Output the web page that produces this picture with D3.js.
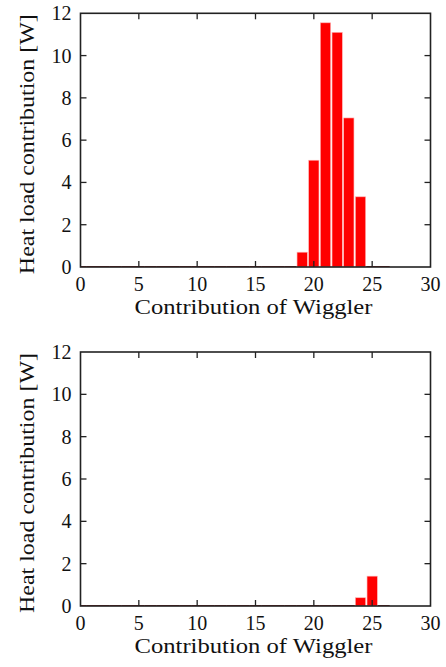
<!DOCTYPE html>
<html>
<head>
<meta charset="utf-8">
<script src="https://cdn.jsdelivr.net/npm/d3@7"></script>
<style>
html,body{margin:0;padding:0;background:#fff;}
svg{display:block;}
</style>
</head>
<body>
<svg id="chart" width="446" height="667"></svg>
<script>
// ---- data ----
const bins = [0,1,2,3,4,5,6,7,8,9,10,11,12,13,14,15,16,17,18,19,20,21,22,23,24,25,26];
const heatTop = [0,0,0,0,0,0,0,0,0,0,0,0,0,0,0,0,0,0,0,0.7,5.05,11.55,11.1,7.05,3.32,0,0];
const heatBottom = [0,0,0,0,0,0,0,0,0,0,0,0,0,0,0,0,0,0,0,0,0,0,0,0,0.39,1.41,0];
const xTicks = [0,5,10,15,20,25,30];
const yTicks = [0,2,4,6,8,10,12];
const xLabel = "Contribution of Wiggler";
const yLabel = "Heat load contribution [W]";

const svg = d3.select("#chart");
const panels = [
  {values: heatTop, top: 13.3, bottom: 267},
  {values: heatBottom, top: 352, bottom: 606}
];
const left = 80.5, right = 430.5;
const FS = "font-family:'Liberation Serif';font-size:20px";

panels.forEach((p, idx) => {
  const x = d3.scaleLinear().domain([0, 30]).range([left, right]);
  const y = d3.scaleLinear().domain([0, 12]).range([p.bottom, p.top]);
  const g = svg.append("g");

  const clipId = "clip" + idx;
  svg.append("clipPath").attr("id", clipId).append("rect")
    .attr("x", left).attr("y", p.top).attr("width", right - left).attr("height", p.bottom - p.top);

  const bw = 0.88;
  const barsG = g.append("g").attr("clip-path", `url(#${clipId})`);
  const data = bins.map((b, i) => ({b, v: p.values[i]}));
  barsG.selectAll("rect.bar").data(data.filter(d => d.v > 0)).join("rect")
    .attr("class", "bar")
    .attr("x", d => x(d.b - bw / 2))
    .attr("width", d => x(d.b + bw / 2) - x(d.b - bw / 2))
    .attr("y", d => y(d.v))
    .attr("height", d => y(0) - y(d.v))
    .attr("fill", "#ff0000")
    .attr("stroke", "#ffb3b3")
    .attr("stroke-width", 0.6);

  g.append("rect").attr("x", left).attr("y", p.top)
    .attr("width", right - left).attr("height", p.bottom - p.top)
    .attr("fill", "none").attr("stroke", "#222").attr("stroke-width", 1.6);

  barsG.selectAll("line.zero").data(data.filter(d => d.v === 0)).join("line")
    .attr("class", "zero")
    .attr("x1", d => x(d.b - 0.5)).attr("x2", d => x(d.b + 0.5))
    .attr("y1", y(0) - 0.3).attr("y2", y(0) - 0.3)
    .attr("stroke", "#8a1c1c").attr("stroke-width", 1.2);

  const tickLen = 6;
  const tg = g.append("g").attr("stroke", "#222").attr("stroke-width", 1.3);
  xTicks.filter(t => t > 0 && t < 30).forEach(t => {
    tg.append("line").attr("x1", x(t)).attr("x2", x(t)).attr("y1", p.bottom).attr("y2", p.bottom - tickLen);
    tg.append("line").attr("x1", x(t)).attr("x2", x(t)).attr("y1", p.top).attr("y2", p.top + tickLen);
  });
  yTicks.filter(t => t > 0 && t < 12).forEach(t => {
    tg.append("line").attr("x1", left).attr("x2", left + tickLen).attr("y1", y(t)).attr("y2", y(t));
    tg.append("line").attr("x1", right).attr("x2", right - tickLen).attr("y1", y(t)).attr("y2", y(t));
  });
  xTicks.forEach(t => {
    svg.append("text").attr("x", x(t)).attr("y", p.bottom + 24)
      .attr("text-anchor", "middle").attr("style", FS).attr("fill", "#111").text(t);
  });
  yTicks.forEach(t => {
    svg.append("text").attr("x", left - 9).attr("y", y(t) + 7)
      .attr("text-anchor", "end").attr("style", FS).attr("fill", "#111").text(t);
  });

  svg.append("text").attr("x", (left + right) / 2 - 2).attr("y", p.bottom + 47)
    .attr("text-anchor", "middle").attr("style", FS).attr("fill", "#111")
    .attr("textLength", 238).attr("lengthAdjust", "spacingAndGlyphs")
    .text(xLabel);
  svg.append("text")
    .attr("transform", `translate(34,${(p.top + p.bottom) / 2 + 4}) rotate(-90)`)
    .attr("text-anchor", "middle").attr("style", FS).attr("fill", "#111")
    .attr("textLength", 260).attr("lengthAdjust", "spacingAndGlyphs")
    .text(yLabel);
});
</script>
</body>
</html>
